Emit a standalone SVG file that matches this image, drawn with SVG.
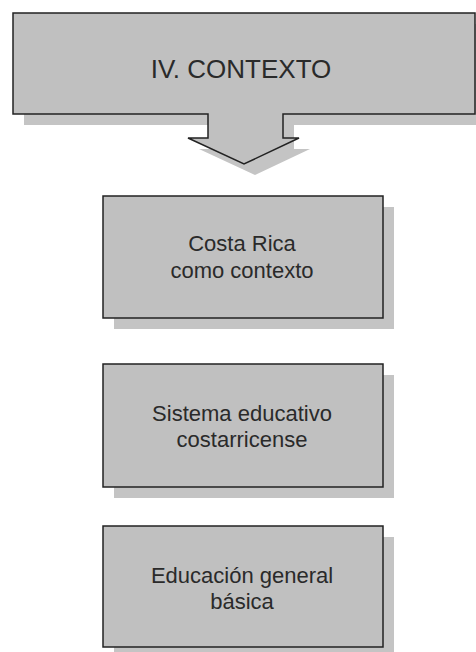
<svg xmlns="http://www.w3.org/2000/svg" width="476" height="652" viewBox="0 0 476 652">
<style>
.sh{fill:#c4c4c4;stroke:none}
.bx{fill:#c0c0c0;stroke:#222;stroke-width:1.5}
.t{font-family:"Liberation Sans",Arial,sans-serif;font-size:22px;fill:#2a2a2a;text-anchor:middle}
</style>
<rect width="476" height="652" fill="#fff"/>
<g id="contexto">
<path class="sh" d="M24,24 H486 V125 H294 V149 H310 L255,175 L199,149 H219 V125 H24 Z"/>
<path class="bx" d="M13,13 H475 V114 H283 V138 H299 L244,164 L188,138 H208 V114 H13 Z"/>
<text class="t" x="241" y="78" style="font-size:26px">IV. CONTEXTO</text>
</g>
<g id="costa-rica">
<rect class="sh" x="114" y="207" width="280" height="122"/>
<rect class="bx" x="103" y="196" width="280" height="122"/>
<text class="t" x="242" y="251">Costa Rica</text>
<text class="t" x="242" y="278">como contexto</text>
</g>
<g id="sistema">
<rect class="sh" x="114" y="375" width="280" height="123"/>
<rect class="bx" x="103" y="364" width="280" height="123"/>
<text class="t" x="242" y="421">Sistema educativo</text>
<text class="t" x="242" y="447">costarricense</text>
</g>
<g id="egb">
<rect class="sh" x="114" y="537" width="280" height="121"/>
<rect class="bx" x="103" y="526" width="280" height="121"/>
<text class="t" x="242" y="583">Educación general</text>
<text class="t" x="242" y="609">básica</text>
</g>
<g id="connectors"></g>
</svg>
